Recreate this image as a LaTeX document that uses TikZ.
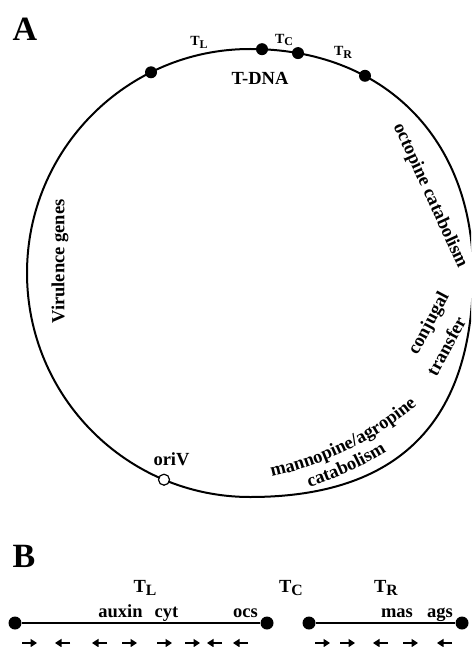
\documentclass[tikz,border=0pt]{standalone}
\usepackage{fontspec}
\usepackage{graphicx}
\setmainfont{Liberation Serif}
\usetikzlibrary{arrows.meta,decorations.text}
\newcommand\mysub[1]{\raisebox{-0.45ex}{\scalebox{0.85}{#1}}}
\newcommand\decofont{\fontsize{18.5}{20}\selectfont\bfseries}
\begin{document}
\begin{tikzpicture}[x=1pt,y=-1pt,
  lbl/.style={font=\fontsize{18.5}{20}\selectfont\bfseries, inner sep=0pt},
  big/.style={font=\fontsize{34}{36}\selectfont\bfseries, inner sep=0pt},
  tsm/.style={font=\fontsize{14}{16}\selectfont\bfseries, inner sep=0pt},
  dot/.style={circle, fill=black, inner sep=0pt, minimum size=12pt},
  odot/.style={circle, draw=black, fill=white, line width=1.2pt, inner sep=0pt, minimum size=11pt},
  gene/.style={line width=2.2pt, -{Triangle[length=6.5pt,width=8pt]}},
  ring/.style={line width=2pt},
  bar/.style={line width=2.6pt},
]
\useasboundingbox (0,0) rectangle (471,647);
\clip (0,0) rectangle (471,647);
% plasmid ring
\draw[ring] (27,273) .. controls (27,149.3) and (126.8,49) .. (250,49)
  .. controls (383.8,49) and (473,138.6) .. (473,273)
  .. controls (473,422) and (398.5,497) .. (250,497)
  .. controls (126.8,497) and (27,396.7) .. cycle;
\node[dot] (d1) at (151,72.3) {};
\node[dot] (d2) at (262,49.2) {};
\node[dot] (d3) at (298,53.1) {};
\node[dot] (d4) at (365,75.8) {};
\node[odot] (ori) at (164,479.7) {};
% labels A
\node[big] (A) at (25,29) {A};
\node[tsm] (tl) at (199,42) {T\mysub{L}};
\node[tsm] (tc) at (284,40) {T\mysub{C}};
\node[tsm] (tr) at (343,52) {T\mysub{R}};
\node[lbl] (tdna) at (260,78.5) {T-DNA};
\node[lbl] (oriv) at (171.5,459) {oriV};
\node[lbl, rotate=90] (vir) at (60,261.5) {Virulence genes};
\node[lbl, rotate=-65.5] (oct) at (430,195.8) {octopine catabolism};
\node[lbl, rotate=62] (conj) at (429.5,323.5) {conjugal};
\node[lbl, rotate=62] (trans) at (446,346) {transfer};
\path[decorate, decoration={text along path, text={|\decofont|mannopine/agropine}, text align=center}]
  (197,142) ++(78:343) arc[start angle=78, end angle=49.5, radius=343];
\path[decorate, decoration={text along path, text={|\decofont|catabolism}, text align=center}]
  (197,142) ++(72.7:363) arc[start angle=72.7, end angle=57.8, radius=363];
% section B
\node[big] (B) at (24,556) {B};
\node[dot, minimum size=13pt] (l1) at (15,623) {};
\node[dot, minimum size=13pt] (l2) at (267,623) {};
\node[dot, minimum size=13pt] (r1) at (309,623) {};
\node[dot, minimum size=13pt] (r2) at (462,623) {};
\draw[bar] (l1) -- (l2);
\draw[bar] (r1) -- (r2);
\node[lbl] (btl) at (145,588) {T\mysub{L}};
\node[lbl] (btc) at (291,588) {T\mysub{C}};
\node[lbl] (btr) at (386,588) {T\mysub{R}};
\node[lbl, anchor=base] (aux) at (120.5,617) {auxin};
\node[lbl, anchor=base] (cyt) at (166.5,617) {cyt};
\node[lbl, anchor=base] (ocs) at (245.5,617) {ocs};
\node[lbl, anchor=base] (mas) at (397,617) {mas};
\node[lbl, anchor=base] (ags) at (440,617) {ags};
\foreach \a/\b [count=\i] in {22/37, 70/55, 107/92, 122/137, 157/172, 185/200, 222/207, 248/233, 315/330, 340/355, 388/373, 403/418, 452/437} {
  \coordinate (ga\i) at (\a,643);
  \coordinate (gb\i) at (\b,643);
  \draw[gene] (ga\i) -- (gb\i);
}
\end{tikzpicture}
\end{document}
